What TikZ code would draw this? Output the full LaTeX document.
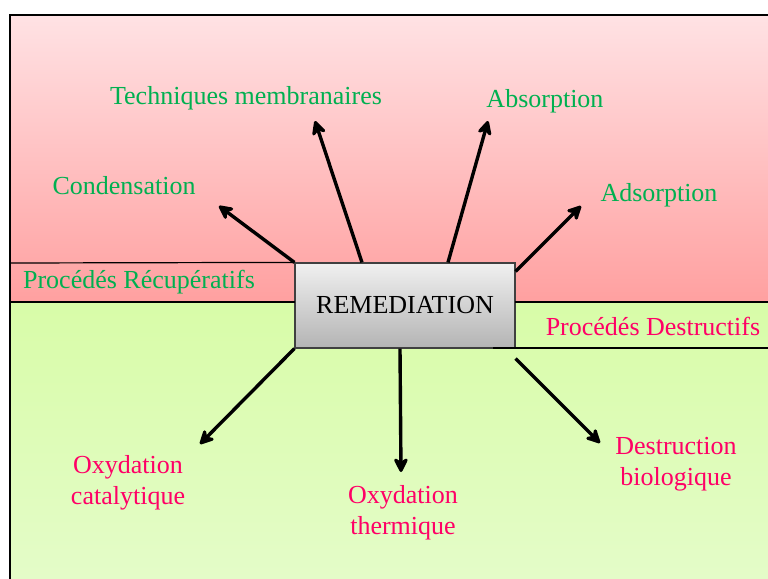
\documentclass[tikz,border=0pt]{standalone}
\usepackage{fontspec}
\setmainfont{Liberation Serif}
\usetikzlibrary{arrows.meta}
\definecolor{recupgreen}{RGB}{0,176,80}
\definecolor{destrred}{RGB}{255,0,102}
\definecolor{pinktop}{RGB}{255,226,228}
\definecolor{pinkbot}{RGB}{255,160,160}
\definecolor{greentop}{RGB}{216,252,168}
\definecolor{greenbot}{RGB}{228,252,200}
\definecolor{boxtop}{RGB}{240,240,240}
\definecolor{boxbot}{RGB}{180,180,180}

\begin{document}
\begin{tikzpicture}[
      x=0.5pt, y=-0.5pt,
      every node/.style={font=\fontsize{13}{15.5}\selectfont, align=center, inner sep=0pt},
      recup/.style={text=recupgreen},
      destr/.style={text=destrred},
      arrow/.style={-{Stealth[length=9pt,width=9pt,inset=3pt,round]}, line width=1.7pt},
      sep/.style={line width=0.6pt}
    ]
      \useasboundingbox (0,0) rectangle (768,579);
      % fonds
      \shade[top color=pinktop, bottom color=pinkbot] (10,15) rectangle (768,302);
      \shade[top color=greentop, bottom color=greenbot] (10,302) rectangle (768,579);
      \draw[line width=0.7pt] (10,579) -- (10,15) -- (768,15);

      \node[draw=black!75, line width=0.6pt, top color=boxtop, bottom color=boxbot,
            minimum width=110pt, minimum height=42.5pt] (rem) at (405,305.5) {REMEDIATION};

      % bandes
      \draw[sep] (10,263) -- (rem.north west);
      \draw[sep] (10,302) -- (295,302);
      \draw[sep] (515,302) -- (768,302);
      \draw[sep] (493,348) -- (768,348);
      \node[recup] (recupband) at (139,282) {Procédés Récupératifs};
      \node[destr] (destrband) at (653,326) {Procédés Destructifs};

      \node[recup] (membr) at (246,98)  {Techniques membranaires};
      \node[recup] (absor) at (545,101) {Absorption};
      \node[recup] (conde) at (124,186) {Condensation};
      \node[recup] (adsor) at (659,195) {Adsorption};
      \node[destr] (oxcat) at (128,483) {Oxydation\\catalytique};
      \node[destr] (oxthe) at (403,513) {Oxydation\\thermique};
      \node[destr] (biolo) at (676,464) {Destruction\\biologique};

      \coordinate (condetip) at (219,206);
      \coordinate (membrtip) at (315,121);
      \coordinate (absortip) at (488,121);
      \coordinate (adsortip) at (581,206);
      \coordinate (oxcattip) at (200,444);
      \coordinate (oxthetip) at (401,472);
      \coordinate (biolotip) at (600,443);

      \draw[arrow] (rem.north west) -- (condetip);
      \draw[arrow] ([xshift=-21.5pt]rem.north) -- (membrtip);
      \draw[arrow] ([xshift=21.5pt]rem.north) -- (absortip);
      \draw[arrow] ([yshift=-4.5pt]rem.north east) -- (adsortip);
      \draw[arrow] (rem.south west) -- (oxcattip);
      \draw[arrow] ([xshift=-2.5pt]rem.south) -- (oxthetip);
      \draw[arrow] ([yshift=-5pt]rem.south east) -- (biolotip);
    \end{tikzpicture}
\end{document}
